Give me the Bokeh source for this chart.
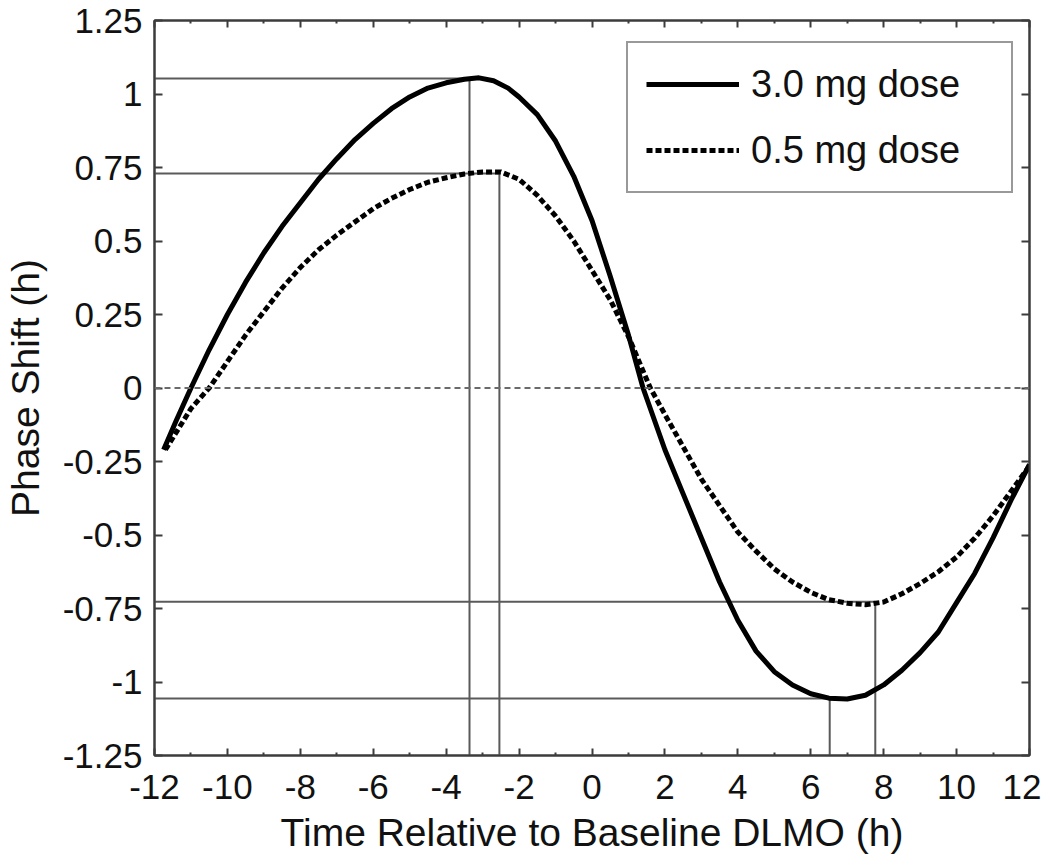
from bokeh.plotting import figure
from bokeh.models import Range1d, LinearAxis, FixedTicker, Legend, LegendItem, Span
from bokeh.embed import file_html
from bokeh.resources import INLINE

# ---------------- data ----------------
dose3_x = [-11.75, -11.4, -11.0, -10.5, -10.0, -9.5, -9.0, -8.5, -8.0, -7.5, -7.0, -6.5,
           -6.0, -5.5, -5.0, -4.5, -4.0, -3.5, -3.1, -2.7, -2.3, -2.0, -1.5, -1.0, -0.5,
           0.0, 0.5, 1.0, 1.4, 2.0, 2.5, 3.0, 3.5, 4.0, 4.5, 5.0, 5.5, 6.0, 6.5, 7.0,
           7.5, 8.0, 8.5, 9.0, 9.5, 10.0, 10.5, 11.0, 11.5, 12.0]
dose3_y = [-0.21, -0.11, 0.0, 0.13, 0.25, 0.36, 0.46, 0.55, 0.63, 0.71, 0.78, 0.845,
           0.90, 0.95, 0.99, 1.02, 1.038, 1.05, 1.055, 1.045, 1.02, 0.99, 0.93, 0.84, 0.72,
           0.57, 0.38, 0.18, 0.0, -0.21, -0.36, -0.51, -0.66, -0.79, -0.895, -0.965, -1.01,
           -1.04, -1.055, -1.058, -1.045, -1.01, -0.96, -0.90, -0.83, -0.73, -0.63, -0.51,
           -0.38, -0.26]

dose05_x = [-11.7, -11.4, -11.0, -10.5, -10.0, -9.5, -9.0, -8.5, -8.0, -7.5, -7.0, -6.5,
            -6.0, -5.5, -5.0, -4.5, -4.0, -3.5, -3.0, -2.5, -2.0, -1.5, -1.0, -0.5, 0.0,
            0.5, 1.0, 1.6, 2.0, 2.5, 3.0, 3.5, 4.0, 4.5, 5.0, 5.5, 6.0, 6.5, 7.0, 7.5,
            8.0, 8.5, 9.0, 9.5, 10.0, 10.5, 11.0, 11.5, 12.0]
dose05_y = [-0.21, -0.15, -0.07, 0.0, 0.09, 0.18, 0.26, 0.34, 0.41, 0.47, 0.52, 0.565,
            0.61, 0.645, 0.675, 0.70, 0.715, 0.728, 0.735, 0.735, 0.71, 0.655, 0.585, 0.50,
            0.40, 0.30, 0.175, 0.0, -0.09, -0.20, -0.31, -0.40, -0.49, -0.555, -0.615,
            -0.66, -0.695, -0.72, -0.732, -0.737, -0.728, -0.70, -0.665, -0.625, -0.575,
            -0.51, -0.435, -0.35, -0.265]

# peak / trough marker lines (3.0 mg, 0.5 mg)
peak_x = [-3.36, -2.54]
peak_y = [1.053, 0.73]
trough_x = [6.52, 7.77]
trough_y = [-1.056, -0.727]

x_ticks = [-12, -10, -8, -6, -4, -2, 0, 2, 4, 6, 8, 10, 12]
x_minor = [-11, -9, -7, -5, -3, -1, 1, 3, 5, 7, 9, 11]
x_labels = ["-12", "-10", "-8", "-6", "-4", "-2", "0", "2", "4", "6", "8", "10", "12"]
y_ticks = [-1.25, -1.0, -0.75, -0.5, -0.25, 0.0, 0.25, 0.5, 0.75, 1.0, 1.25]
y_labels = ["-1.25", "-1", "-0.75", "-0.5", "-0.25", "0", "0.25", "0.5", "0.75", "1", "1.25"]

series_labels = ["3.0 mg dose", "0.5 mg dose"]

FONT = "Liberation Sans"
AX = "#3c3c3c"
REF = "#5a5a5a"

FRAME_H = 735
p = figure(frame_width=875, frame_height=FRAME_H,
           x_range=Range1d(-12, 12), y_range=Range1d(-1.25, 1.25),
           output_backend="svg", toolbar_location=None,
           x_axis_location=None, y_axis_location=None,
           min_border_left=151, min_border_right=12, min_border_top=20, min_border_bottom=111)
p.grid.visible = False
p.outline_line_color = AX
p.outline_line_width = 2
p.background_fill_color = "white"
p.border_fill_color = "white"

def style(ax, labels=True):
    ax.axis_line_color = AX
    ax.axis_line_width = 2
    ax.major_tick_line_color = AX
    ax.major_tick_line_width = 2
    ax.minor_tick_line_color = AX
    ax.minor_tick_line_width = 2
    ax.major_tick_out = 0
    ax.minor_tick_out = 0
    ax.major_label_text_font = FONT
    ax.major_label_text_color = "#111111"
    ax.axis_label_text_font = FONT
    ax.axis_label_text_font_style = "normal"
    ax.axis_label_text_color = "#111111"
    if not labels:
        ax.major_label_text_font_size = "1px"
        ax.major_label_text_alpha = 0
        ax.major_label_standoff = 0

xt = FixedTicker(ticks=x_ticks, minor_ticks=x_minor)
yt = FixedTicker(ticks=y_ticks, minor_ticks=[])

xb = LinearAxis(ticker=xt, axis_label="Time Relative to Baseline DLMO (h)")
style(xb)
xb.major_tick_in = 7
xb.minor_tick_in = 3
xb.major_label_text_font_size = "35px"
xb.axis_label_text_font_size = "39px"
xb.major_label_standoff = 19
xb.axis_label_standoff = 9
xb.major_label_overrides = {t: l for t, l in zip(x_ticks, x_labels)}
p.add_layout(xb, "below")

xa = LinearAxis(ticker=xt)
style(xa, labels=False)
xa.major_tick_in = 7
xa.minor_tick_in = 3
xa.major_label_overrides = {t: "" for t in x_ticks}
p.add_layout(xa, "above")

yl = LinearAxis(ticker=yt, axis_label="Phase Shift (h)")
style(yl)
yl.major_tick_in = 8
yl.major_label_text_font_size = "35px"
yl.axis_label_text_font_size = "39px"
yl.major_label_standoff = 12
yl.axis_label_standoff = 13
yl.major_label_overrides = {t: l for t, l in zip(y_ticks, y_labels)}
p.add_layout(yl, "left")

yr = LinearAxis(ticker=yt)
style(yr, labels=False)
yr.major_tick_in = 8
yr.major_label_overrides = {t: "" for t in y_ticks}
p.add_layout(yr, "right")

# zero line
p.add_layout(Span(location=0, dimension="width", line_color="#6a6a6a",
                  line_width=2, line_dash="6 4"))

# reference lines: horizontal from left edge to the x position, vertical from bottom
ref_x = peak_x + trough_x
ref_y = peak_y + trough_y
p.segment(x0=[-12] * len(ref_x), y0=ref_y, x1=ref_x, y1=ref_y, line_color=REF, line_width=2)
p.segment(x0=ref_x, y0=[-1.25] * len(ref_x), x1=ref_x, y1=ref_y, line_color=REF, line_width=2)

r1 = p.line(dose3_x, dose3_y, line_color="black", line_width=5)
r2 = p.line(dose05_x, dose05_y, line_color="black", line_width=5, line_dash="6 3")

LEG_H = 150
legend = Legend(items=[LegendItem(label=series_labels[0], renderers=[r1]),
                       LegendItem(label=series_labels[1], renderers=[r2])],
                location=(472, FRAME_H - 23 - LEG_H))
legend.label_text_font = FONT
legend.label_text_font_size = "38px"
legend.label_text_color = "#111111"
legend.glyph_width = 93
legend.glyph_height = 46
legend.label_height = 46
legend.label_width = 242
legend.label_standoff = 12
legend.spacing = 20
legend.padding = 18
legend.margin = 0
legend.border_line_color = "#333333"
legend.border_line_width = 2
legend.background_fill_color = "white"
legend.background_fill_alpha = 1
p.add_layout(legend, "center")

open("out.html", "w").write(file_html(p, INLINE))
